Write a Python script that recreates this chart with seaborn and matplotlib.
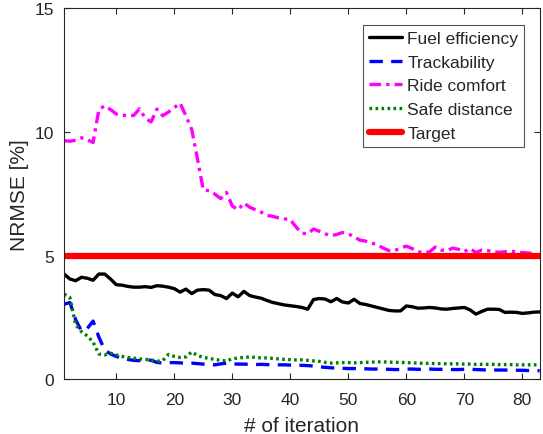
import numpy as np
import pandas as pd
import matplotlib
matplotlib.use('Agg')
import matplotlib.pyplot as plt
import seaborn as sns

iteration = list(range(1, 84))

fuel = [4.25, 4.05, 3.98, 4.12, 4.08, 4.00, 4.25, 4.25, 4.05, 3.82,
        3.80, 3.75, 3.72, 3.72, 3.74, 3.71, 3.78, 3.76, 3.72, 3.66,
        3.52, 3.64, 3.46, 3.60, 3.62, 3.60, 3.42, 3.38, 3.26, 3.48,
        3.33, 3.55, 3.38, 3.32, 3.27, 3.18, 3.10, 3.05, 3.00, 2.97,
        2.94, 2.90, 2.83, 3.22, 3.26, 3.24, 3.13, 3.26, 3.12, 3.08,
        3.23, 3.06, 3.02, 2.96, 2.90, 2.84, 2.78, 2.76, 2.76, 2.96,
        2.93, 2.87, 2.88, 2.90, 2.88, 2.84, 2.83, 2.86, 2.88, 2.90,
        2.80, 2.63, 2.74, 2.83, 2.83, 2.82, 2.70, 2.71, 2.70, 2.66,
        2.68, 2.71, 2.72]

track = [3.03, 3.10, 2.40, 1.95, 2.05, 2.35, 1.70, 1.18, 1.02, 0.92,
         0.84, 0.80, 0.76, 0.75, 0.80, 0.76, 0.68, 0.65, 0.67, 0.67,
         0.66, 0.64, 0.65, 0.63, 0.61, 0.59, 0.58, 0.62, 0.65, 0.62,
         0.61, 0.61, 0.60, 0.59, 0.60, 0.59, 0.58, 0.58, 0.58, 0.57,
         0.57, 0.56, 0.55, 0.53, 0.50, 0.48, 0.46, 0.45, 0.44, 0.43,
         0.43, 0.42, 0.42, 0.41, 0.41, 0.40, 0.40, 0.39, 0.39, 0.41,
         0.41, 0.40, 0.40, 0.41, 0.40, 0.40, 0.40, 0.39, 0.39, 0.40,
         0.40, 0.39, 0.38, 0.37, 0.37, 0.37, 0.37, 0.36, 0.36, 0.36,
         0.35, 0.35, 0.34]

ride = [9.64, 9.62, 9.66, 9.76, 9.68, 9.57, 10.90, 11.05, 10.90, 10.72,
        10.67, 10.66, 10.66, 10.93, 10.55, 10.40, 10.92, 10.65, 10.80, 10.98,
        11.16, 10.65, 10.10, 8.90, 7.65, 7.62, 7.48, 7.30, 7.55, 7.00,
        6.85, 7.12, 6.95, 6.85, 6.75, 6.62, 6.58, 6.52, 6.48, 6.45,
        6.15, 5.90, 5.88, 6.07, 5.98, 5.88, 5.80, 5.85, 5.93, 5.88,
        5.75, 5.62, 5.58, 5.50, 5.44, 5.30, 5.20, 5.20, 5.30, 5.38,
        5.28, 5.15, 5.12, 5.15, 5.34, 5.22, 5.20, 5.30, 5.25, 5.16,
        5.28, 5.12, 5.22, 5.20, 5.15, 5.13, 5.15, 5.18, 5.14, 5.12,
        5.10, 5.08, 4.88]

safe = [3.44, 3.30, 2.20, 1.92, 1.75, 1.50, 1.02, 0.98, 1.05, 0.98,
        0.92, 0.88, 0.85, 0.82, 0.80, 0.78, 0.72, 0.75, 1.00, 0.92,
        0.88, 0.90, 1.10, 0.96, 0.88, 0.84, 0.80, 0.76, 0.74, 0.82,
        0.86, 0.88, 0.90, 0.88, 0.86, 0.86, 0.84, 0.82, 0.80, 0.79,
        0.78, 0.78, 0.76, 0.74, 0.72, 0.68, 0.65, 0.66, 0.67, 0.67,
        0.66, 0.67, 0.68, 0.69, 0.70, 0.70, 0.69, 0.68, 0.68, 0.67,
        0.66, 0.65, 0.64, 0.64, 0.63, 0.63, 0.62, 0.62, 0.62, 0.61,
        0.61, 0.60, 0.60, 0.60, 0.60, 0.59, 0.59, 0.59, 0.58, 0.58,
        0.58, 0.58, 0.58]

target = 5.0

sns.set_style("ticks")
plt.rcParams['font.family'] = ['Liberation Sans', 'DejaVu Sans']

fig = plt.figure(figsize=(5.43, 4.35), dpi=100)
ax = fig.add_axes([0.118, 0.126, 0.876, 0.853])

it = np.array(iteration)
sns.lineplot(x=it, y=fuel, ax=ax, color='black', lw=2.4, label='Fuel efficiency')
sns.lineplot(x=it, y=track, ax=ax, color='#0000ff', lw=2.4, label='Trackability',
             linestyle=(0, (4, 2.5)))
sns.lineplot(x=it, y=ride, ax=ax, color='#ff00ff', lw=2.4, label='Ride comfort',
             linestyle=(0, (3.5, 1.5, 1, 1.5)))
sns.lineplot(x=it, y=safe, ax=ax, color='#008000', lw=2.4, label='Safe distance',
             linestyle=(0, (0.8, 1.0)))
sns.lineplot(x=it, y=[target] * len(it), ax=ax, color='#ff0000', lw=4.5, label='Target')

ax.set_xlim(1, 83)
ax.set_ylim(0, 15)
ax.set_xticks([10, 20, 30, 40, 50, 60, 70, 80])
ax.set_yticks([0, 5, 10, 15])
ax.tick_params(direction='in', top=True, right=True, labelsize=12.5,
               colors='#262626', length=4, width=0.8)
ax.tick_params(axis='x', pad=9)
ax.tick_params(axis='y', pad=7)
for s in ax.spines.values():
    s.set_color('#262626')
    s.set_linewidth(0.8)
ax.set_xlabel('# of iteration', fontsize=15, color='#262626', labelpad=7)
ax.set_ylabel('NRMSE [%]', fontsize=15, color='#262626', labelpad=4)

leg = ax.legend(loc='upper right', bbox_to_anchor=(0.975, 0.965), fontsize=12.5,
                frameon=True, fancybox=False, edgecolor='#262626',
                handlelength=1.9, handletextpad=0.3, borderpad=0.35,
                labelspacing=0.5, borderaxespad=0.2)
leg.get_frame().set_linewidth(0.8)

fig.savefig('out.png', dpi=100)
